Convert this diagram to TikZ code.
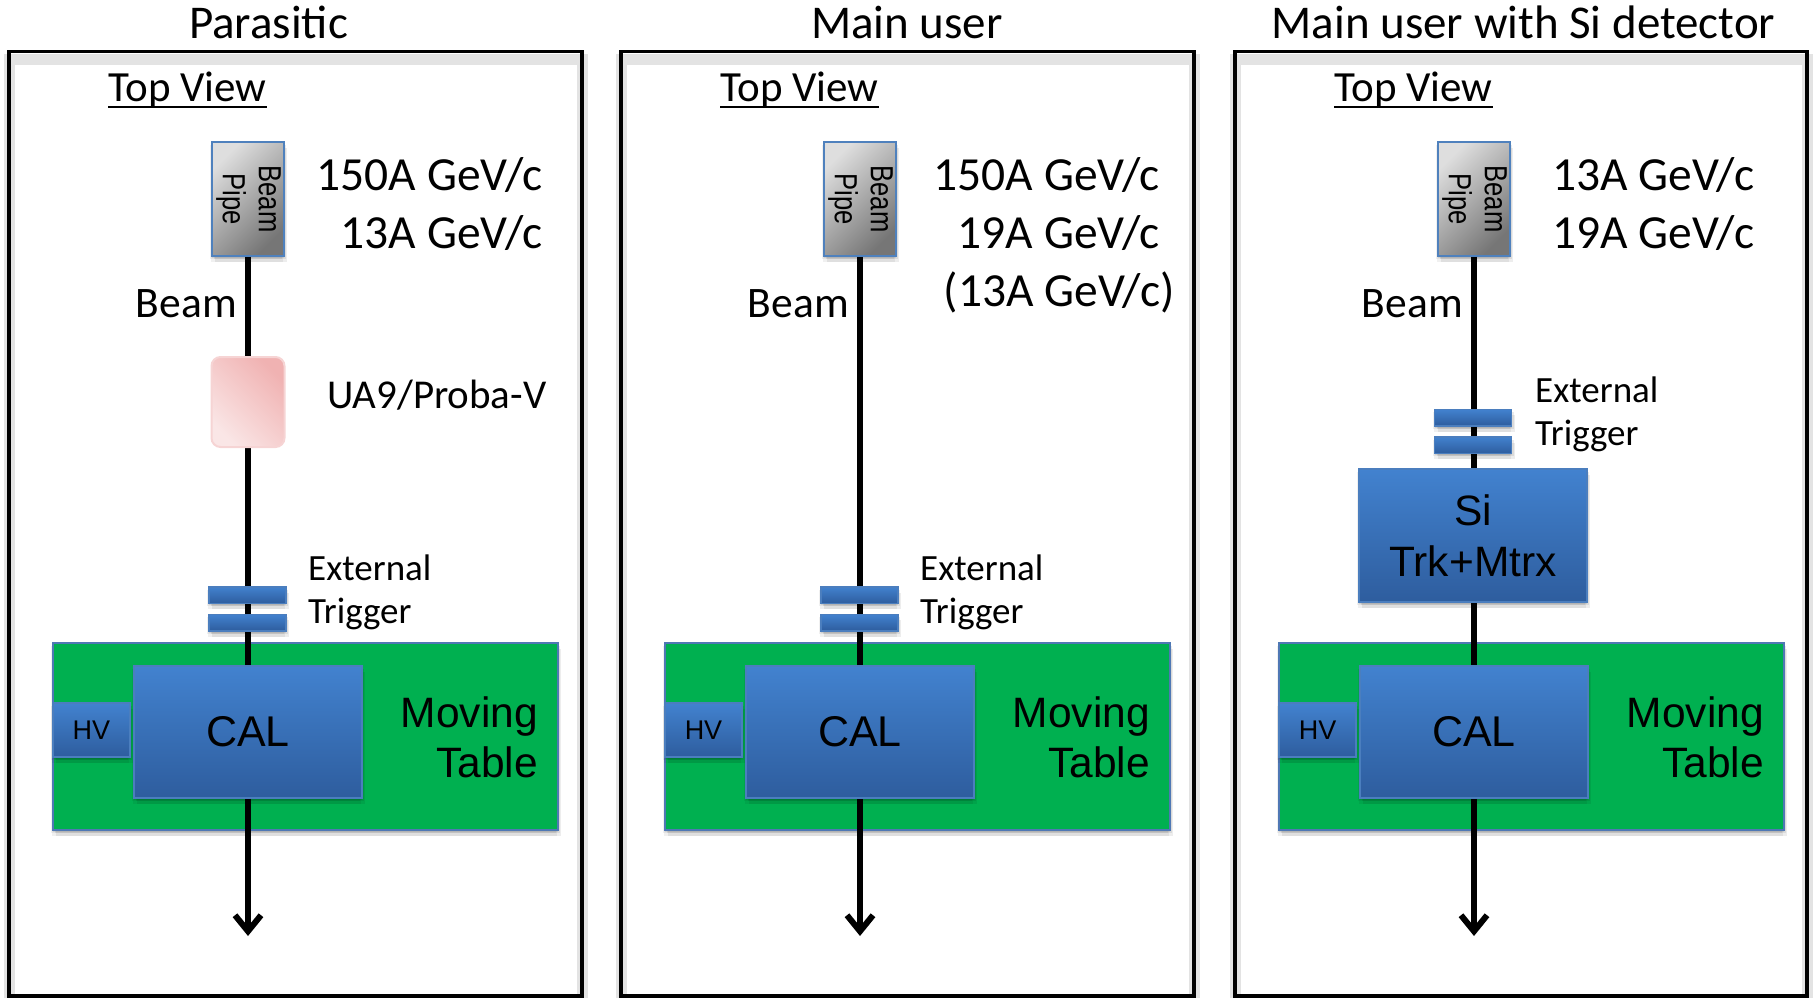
\documentclass[tikz,border=0pt]{standalone}
\usepackage{fontspec}
\usepackage{graphicx}
\setmainfont{Carlito}
\newfontfamily\arialf{Liberation Sans}
\usetikzlibrary{arrows.meta,shadows}

\definecolor{pipelight}{RGB}{222,222,222}
\definecolor{pipedark}{RGB}{118,118,118}
\definecolor{pipeedge}{RGB}{79,129,189}
\definecolor{uadark}{RGB}{240,178,178}
\definecolor{ualight}{RGB}{250,230,230}
\definecolor{uaedge}{RGB}{246,212,212}
\definecolor{bluetop}{RGB}{66,130,207}
\definecolor{bluebot}{RGB}{46,93,158}
\definecolor{blueedge}{RGB}{75,126,190}
\definecolor{tablegreen}{RGB}{0,176,80}
\definecolor{tableedge}{RGB}{79,120,180}

% rotated label inside the beam pipe
\newcommand\pipetext{\rotatebox{-90}{\arialf\fontsize{32}{36}\selectfont\scalebox{0.8}[1]{\begin{tabular}{@{}c@{}}Beam\\Pipe\end{tabular}}}}

\tikzset{
  softshadow/.style={
    drop shadow={shadow xshift=0pt,shadow yshift=-2pt,fill=black,opacity=.08},
    drop shadow={shadow xshift=2pt,shadow yshift=-3pt,fill=black,opacity=.08},
    drop shadow={shadow xshift=-2pt,shadow yshift=-3pt,fill=black,opacity=.06},
    drop shadow={shadow xshift=3pt,shadow yshift=-6pt,fill=black,opacity=.07},
    drop shadow={shadow xshift=-1pt,shadow yshift=-6pt,fill=black,opacity=.06}},
  frame/.style={draw=black,line width=3.5pt},
  frameshade/.style={draw=black!11,line width=11pt},
  title/.style={font=\fontsize{47}{50}\selectfont,anchor=base,inner sep=0pt},
  topview/.style={font=\fontsize{43}{46}\selectfont,anchor=base west,inner sep=0pt},
  uline/.style={line width=2pt},
  energy/.style={font=\fontsize{47.5}{50}\selectfont,inner sep=0pt},
  lbl/.style={font=\fontsize{43.5}{46}\selectfont,inner sep=0pt},
  ualbl/.style={font=\fontsize{41}{44}\selectfont,inner sep=0pt},
  smalllbl/.style={font=\fontsize{37}{40}\selectfont,anchor=base west,inner sep=0pt},
  movlbl/.style={font=\arialf\fontsize{42.5}{46}\selectfont,anchor=base east,inner sep=0pt},
  pipebox/.style={draw=pipeedge,line width=1.5pt,top color=pipelight,bottom color=pipedark,
    shading angle=45,minimum width=68pt,minimum height=114pt,inner sep=0pt,softshadow},
  uabox/.style={draw=uaedge,line width=2pt,rounded corners=9pt,top color=uadark,bottom color=ualight,
    shading angle=-45,minimum width=73pt,minimum height=90pt,inner sep=0pt},
  bluebox/.style={draw=blueedge,line width=1.5pt,top color=bluetop,bottom color=bluebot,inner sep=0pt,softshadow},
  trigbar/.style={bluebox,minimum width=77pt,minimum height=16.5pt},
  calbox/.style={bluebox,minimum width=228pt,minimum height=132pt,font=\arialf\fontsize{43}{46}\selectfont},
  sibox/.style={bluebox,minimum width=228pt,minimum height=133pt,align=center,font=\arialf\fontsize{42.5}{51}\selectfont},
  hvbox/.style={bluebox,minimum width=77pt,minimum height=54pt,font=\arialf\fontsize{27}{30}\selectfont},
  tablebox/.style={draw=tableedge,line width=1.2pt,fill=tablegreen,minimum width=505pt,minimum height=187pt,
    inner sep=0pt,softshadow},
  beamline/.style={line width=6pt,-{Straight Barb[length=16pt,width=26pt]}},
}

\begin{document}
\begin{tikzpicture}[x=1pt,y=-1pt]
\useasboundingbox (0,0) rectangle (1813,998);

% panel titles
\node[title] (t1) at (268.5,39) {Parasitic};
\node[title] (t2) at (907,39) {Main user};
\node[title] (t3) at (1523.5,39) {Main user with Si detector};

% ---------------- parasitic ----------------
\begin{scope}
\draw[frameshade] (9,59.5) rectangle (582,1004);
\draw[frame] (9,51.5) rectangle (582,996);
\node[topview] (a-tv) at (108,102) {Top View};
\draw[uline] ([yshift=-5pt]a-tv.base west) -- ([yshift=-5pt]a-tv.base east);
\node[pipebox] (a-pipe) at (248,199) {\pipetext};
\node[tablebox] (a-table) at (305.5,736.5) {};
\coordinate (a-end) at (248,936);
\draw[beamline] (a-pipe) -- (a-end);
\node[energy,anchor=base east] (a-e1) at (543,190) {150A GeV/c};
\node[energy,anchor=base east] (a-e2) at (543,248) {13A GeV/c};
\node[lbl,anchor=base east] (a-beam) at (237,317) {Beam};
\node[uabox] (a-ua9) at (248,402) {};
\node[ualbl,anchor=base west] (a-ua9l) at (327,408) {UA9/Proba-V};
\node[trigbar] (a-tr1) at (247.5,595) {};
\node[trigbar] (a-tr2) at (247.5,622.5) {};
\node[smalllbl] (a-ext) at (308,580) {External};
\node[smalllbl] (a-trg) at (308,623) {Trigger};
\node[hvbox] (a-hv) at (91.5,730) {HV};
\node[calbox] (a-cal) at (248,732) {CAL};
\node[movlbl] (a-mov) at (538,727) {Moving};
\node[movlbl] (a-tab) at (538,777) {Table};
\end{scope}

% ---------------- main user ----------------
\begin{scope}[xshift=612pt]
\draw[frameshade] (9,59.5) rectangle (582,1004);
\draw[frame] (9,51.5) rectangle (582,996);
\node[topview] (b-tv) at (108,102) {Top View};
\draw[uline] ([yshift=-5pt]b-tv.base west) -- ([yshift=-5pt]b-tv.base east);
\node[pipebox] (b-pipe) at (248,199) {\pipetext};
\node[tablebox] (b-table) at (305.5,736.5) {};
\coordinate (b-end) at (248,936);
\draw[beamline] (b-pipe) -- (b-end);
\node[energy,anchor=base east] (b-e1) at (548,190) {150A GeV/c};
\node[energy,anchor=base east] (b-e2) at (548,248) {19A GeV/c};
\node[energy,anchor=base east] (b-e3) at (563,306) {(13A GeV/c)};
\node[lbl,anchor=base east] (b-beam) at (237,317) {Beam};
\node[trigbar] (b-tr1) at (247.5,595) {};
\node[trigbar] (b-tr2) at (247.5,622.5) {};
\node[smalllbl] (b-ext) at (308,580) {External};
\node[smalllbl] (b-trg) at (308,623) {Trigger};
\node[hvbox] (b-hv) at (91.5,730) {HV};
\node[calbox] (b-cal) at (248,732) {CAL};
\node[movlbl] (b-mov) at (538,727) {Moving};
\node[movlbl] (b-tab) at (538,777) {Table};
\end{scope}

% ---------------- main user with Si detector ----------------
\begin{scope}[xshift=1226pt]
\draw[frameshade] (9,59.5) rectangle (581,1004);
\draw[frame] (9,51.5) rectangle (581,996);
\node[topview] (c-tv) at (108,102) {Top View};
\draw[uline] ([yshift=-5pt]c-tv.base west) -- ([yshift=-5pt]c-tv.base east);
\node[pipebox] (c-pipe) at (248,199) {\pipetext};
\node[tablebox] (c-table) at (305.5,736.5) {};
\coordinate (c-end) at (248,936);
\draw[beamline] (c-pipe) -- (c-end);
\node[energy,anchor=base west] (c-e1) at (326,190) {13A GeV/c};
\node[energy,anchor=base west] (c-e2) at (326,248) {19A GeV/c};
\node[lbl,anchor=base east] (c-beam) at (237,317) {Beam};
\node[trigbar] (c-tr1) at (247,417.5) {};
\node[trigbar] (c-tr2) at (247,445) {};
\node[smalllbl] (c-ext) at (309,402) {External};
\node[smalllbl] (c-trg) at (309,445) {Trigger};
\node[sibox] (c-si) at (247,535.5) {Si\\Trk+Mtrx};
\node[hvbox] (c-hv) at (91.5,730) {HV};
\node[calbox] (c-cal) at (248,732) {CAL};
\node[movlbl] (c-mov) at (538,727) {Moving};
\node[movlbl] (c-tab) at (538,777) {Table};
\end{scope}
\end{tikzpicture}
\end{document}
